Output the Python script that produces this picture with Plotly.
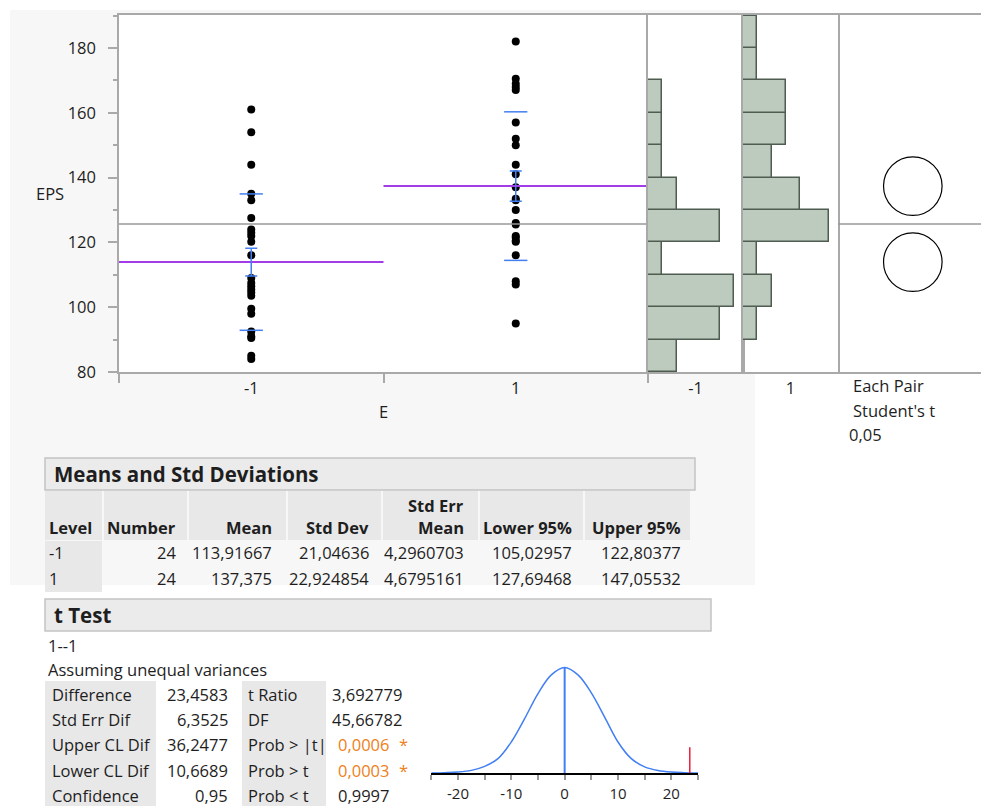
import plotly.graph_objects as go

W, H = 981, 806
FIG_H = 817
FONT = "Open Sans"
TXT = "#1e1e1e"
AX = "#a9a9a9"
BLUE = "#417ff2"
PURPLE = "#a43be8"
FS = 16.5

# ---------------- data ----------------
levels = ["-1", "1"]
level_x = [-1, 1]
eps_neg = [161, 154, 144, 135, 133, 127.5, 124, 123, 122, 120.2, 116, 109, 107.5,
           106.5, 105.5, 104.5, 103.5, 99.5, 98, 92.5, 91, 90.5, 85, 84]
eps_pos = [182, 170.5, 169, 168, 167, 157, 152, 150, 144, 141, 137, 133.5, 133,
           130, 126, 125.5, 122, 121.5, 120.5, 120.2, 116, 108, 107, 95]

bin_lo = [80, 90, 100, 110, 120, 130, 140, 150, 160, 170, 180]
bin_width = 10
hist_neg = [2, 5, 6, 1, 5, 2, 1, 1, 1, 0, 0]
hist_pos = [0, 1, 2, 1, 6, 4, 2, 3, 3, 1, 1]

means = [113.91667, 137.375]
std_devs = [21.04636, 22.924854]
std_errs = [4.2960703, 4.6795161]
circle_radius = [9.04, 9.04]

table_header = ["Level", "Number", "Mean", "Std Dev", "Mean", "Lower 95%", "Upper 95%"]
table_header_top = ["", "", "", "", "Std Err", "", ""]
table_rows = [["-1", "24", "113,91667", "21,04636", "4,2960703", "105,02957", "122,80377"],
              ["1", "24", "137,375", "22,924854", "4,6795161", "127,69468", "147,05532"]]

tt_labels1 = ["Difference", "Std Err Dif", "Upper CL Dif", "Lower CL Dif", "Confidence"]
tt_values1 = ["23,4583", "6,3525", "36,2477", "10,6689", "0,95"]
tt_labels2 = ["t Ratio", "DF", "Prob > |t|", "Prob > t", "Prob < t"]
tt_values2 = ["3,692779", "45,66782", "0,0006", "0,0003", "0,9997"]
tt_signif = [False, False, True, True, False]
tt_prob = [False, False, True, True, True]

difference = 23.4583
t_x = [-25, -22.5, -20, -17.5, -15, -12.5, -10, -7.5, -5, -2.5, 0,
       2.5, 5, 7.5, 10, 12.5, 15, 17.5, 20, 22.5, 25]
t_density = [0.0, 0.003, 0.009, 0.025, 0.063, 0.136, 0.294, 0.515, 0.753, 0.93, 1.0,
             0.93, 0.76, 0.53, 0.294, 0.136, 0.058, 0.024, 0.009, 0.003, 0.0]
red_mark_height = 0.244


# ---------------- helpers ----------------
def fx(px):
    return px / W


def fy(py):
    return 1 - py / H


annotations = []
shapes = []


def text(x, y, s, anchor="left", size=FS, color=TXT, bold=False):
    if bold:
        s = "<b>" + s + "</b>"
    annotations.append(dict(x=fx(x), y=fy(y), xref="paper", yref="paper", text=s,
                            showarrow=False, xanchor=anchor, yanchor="middle",
                            font=dict(family=FONT, size=size, color=color)))


def rect(x0, y0, x1, y1, fill, line=None, lw=0):
    shapes.append(dict(type="rect", xref="paper", yref="paper", x0=fx(x0), x1=fx(x1),
                       y0=fy(y1), y1=fy(y0), fillcolor=fill, layer="below",
                       line=dict(color=line or fill, width=lw)))


fig = go.Figure()

# gray report background, white graph panels
rect(10, 10, 755, 585, "#f7f7f7")
rect(119, 15, 981, 372, "#ffffff")

# ---------------- dot plot ----------------
for xv, vals in zip(level_x, [eps_neg, eps_pos]):
    fig.add_trace(go.Scatter(x=[xv] * len(vals), y=vals, mode="markers",
                             marker=dict(color="black", size=8), xaxis="x", yaxis="y",
                             showlegend=False, cliponaxis=False))

grand = sum(means) / len(means)
fig.add_trace(go.Scatter(x=[-2, 2], y=[grand, grand], mode="lines",
                         line=dict(color="#999999", width=1.5), xaxis="x", yaxis="y",
                         showlegend=False))

mx, my = [], []
for xv, m in zip(level_x, means):
    mx += [xv - 1, xv + 1, None]
    my += [m, m, None]
fig.add_trace(go.Scatter(x=mx, y=my, mode="lines", line=dict(color=PURPLE, width=2),
                         xaxis="x", yaxis="y", showlegend=False))

sx, sy = [], []
for xv, m, s in zip(level_x, means, std_devs):
    for v in (m - s, m + s):
        sx += [xv - 0.088, xv + 0.088, None]
        sy += [v, v, None]
fig.add_trace(go.Scatter(x=sx, y=sy, mode="lines", line=dict(color=BLUE, width=1.5),
                         xaxis="x", yaxis="y", showlegend=False))

fig.add_trace(go.Scatter(x=level_x, y=means, mode="markers", marker=dict(size=1, color="rgba(0,0,0,0)"),
                         error_y=dict(type="data", array=std_errs, color=BLUE, thickness=1.5, width=6),
                         xaxis="x", yaxis="y", showlegend=False))

# ---------------- histograms ----------------
for hist, xa, ya in [(hist_neg, "x3", "y3"), (hist_pos, "x4", "y4")]:
    yc = [b + bin_width / 2 for b, c in zip(bin_lo, hist) if c > 0]
    cc = [c for c in hist if c > 0]
    fig.add_trace(go.Bar(x=cc, y=yc, orientation="h", width=bin_width, xaxis=xa, yaxis=ya,
                         marker=dict(color="#bccbbd", line=dict(color="#4f5c51", width=1.5)),
                         showlegend=False))

# ---------------- comparison circles ----------------
fig.add_trace(go.Scatter(x=[-23.09, 21.05], y=[grand, grand], mode="lines",
                         line=dict(color="#999999", width=1.5), xaxis="x5", yaxis="y5",
                         showlegend=False))
for m, r in zip(means, circle_radius):
    shapes.append(dict(type="circle", xref="x5", yref="y5", x0=-r, x1=r, y0=m - r, y1=m + r,
                       line=dict(color="black", width=1.2)))

# ---------------- t distribution ----------------
fig.add_trace(go.Scatter(x=t_x, y=t_density, mode="lines", line=dict(color=BLUE, width=1.5, shape="spline"),
                         xaxis="x6", yaxis="y6", showlegend=False))
fig.add_trace(go.Scatter(x=[0, 0], y=[0, max(t_density)], mode="lines", line=dict(color=BLUE, width=2),
                         xaxis="x6", yaxis="y6", showlegend=False))
fig.add_trace(go.Scatter(x=[difference, difference], y=[0, red_mark_height], mode="lines",
                         line=dict(color="#ee1c3c", width=1.5), xaxis="x6", yaxis="y6", showlegend=False))

# ---------------- text around plot ----------------
text(50, 194, "EPS", anchor="center")
text(383, 411, "E", anchor="center")
text(851, 385, "Each Pair")
text(851, 410, "Student's t")
text(847, 434, "0,05")

# ---------------- Means and Std Deviations table ----------------
rect(45, 458, 695, 490, "#ebebeb", "#c4c4c4", 1.5)
text(52, 474, "Means and Std Deviations", size=20.5, bold=True)
col_bounds = [(45, 102), (104, 187), (189, 286), (288, 381), (383, 478), (480, 583), (585, 690)]
col_right = [None, 178, 274, 371, 466, 574, 683]
for (a, b) in col_bounds:
    rect(a, 491, b, 540, "#e8e8e8")
rect(45, 541, 102, 592, "#e8e8e8")
for i, h in enumerate(table_header):
    if i == 0:
        text(47, 527, h, bold=True)
    else:
        text(col_right[i], 527, h, anchor="right", bold=True)
    if table_header_top[i]:
        text(col_right[i], 505, table_header_top[i], anchor="right", bold=True)
for r, row in enumerate(table_rows):
    yy = 552 + r * 26
    for i, v in enumerate(row):
        if i == 0:
            text(47, yy, v)
        else:
            text(col_right[i], yy, v, anchor="right")

# ---------------- t Test ----------------
rect(45, 599, 711, 631, "#ebebeb", "#c4c4c4", 1.5)
text(52, 615, "t Test", size=20.5, bold=True)
text(46, 645, "1--1")
text(46, 669, "Assuming unequal variances")
rect(45, 681, 156, 806, "#e8e8e8")
rect(242, 681, 326, 806, "#e8e8e8")
ORANGE = "#ee8020"
for i in range(5):
    yy = 694.5 + i * 25.2
    text(50, yy, tt_labels1[i])
    text(230, yy, tt_values1[i], anchor="right")
    text(246, yy, tt_labels2[i])
    col = ORANGE if tt_signif[i] else TXT
    if tt_prob[i]:
        text(391, yy, tt_values2[i], anchor="right", color=col)
        if tt_signif[i]:
            text(397, yy, "*", color=col)
    else:
        text(330, yy, tt_values2[i])

# ---------------- layout ----------------
yr = [80, 80 + 357 / 3.24]
tickfont = dict(family=FONT, size=FS, color=TXT)
ydom = [fy(372), fy(15)]
hist_range = [0, 95 / 14.3]

fig.update_layout(
    width=W, height=FIG_H, margin=dict(l=0, r=0, t=0, b=0),
    paper_bgcolor="white", plot_bgcolor="rgba(0,0,0,0)",
    font=dict(family=FONT, size=FS, color=TXT),
    showlegend=False, bargap=0,
    annotations=annotations, shapes=shapes,
    xaxis=dict(domain=[fx(119), fx(648)], range=[-2, 2], anchor="y",
               tickmode="array", tickvals=level_x, ticktext=levels, ticks="",
               showline=True, linecolor=AX, linewidth=1.5, mirror=True, showgrid=False, zeroline=False,
               tickfont=tickfont, ticklabelstandoff=0,
               minor=dict(tickmode="array", tickvals=[-2, 0, 2], ticks="outside", ticklen=9,
                          tickcolor=AX, tickwidth=1.5, showgrid=False)),
    yaxis=dict(domain=ydom, range=yr, anchor="x", tickmode="array",
               tickvals=[80, 100, 120, 140, 160, 180], ticks="outside", ticklen=9,
               tickcolor=AX, tickwidth=1.5, showline=True, linecolor=AX, linewidth=1.5,
               showgrid=False, zeroline=False, tickfont=tickfont, ticklabelstandoff=9,
               minor=dict(tickmode="array", tickvals=[90, 110, 130, 150, 170, 190], ticks="outside",
                          ticklen=4, tickcolor=AX, tickwidth=1.5, showgrid=False)),
    xaxis3=dict(domain=[fx(648), fx(743)], range=hist_range, anchor="y3",
                tickmode="array", tickvals=[sum(hist_range) / 2], ticktext=[levels[0]], ticks="",
                showline=True, linecolor=AX, linewidth=1.5, mirror=True, showgrid=False,
                zeroline=False, tickfont=tickfont, ticklabelstandoff=0),
    yaxis3=dict(domain=ydom, range=yr, anchor="x3", showticklabels=False, ticks="",
                showline=True, linecolor=AX, linewidth=1.5, mirror=True, showgrid=False, zeroline=False),
    xaxis4=dict(domain=[fx(743), fx(838)], range=hist_range, anchor="y4",
                tickmode="array", tickvals=[sum(hist_range) / 2], ticktext=[levels[1]], ticks="",
                showline=True, linecolor=AX, linewidth=1.5, mirror=True, showgrid=False,
                zeroline=False, tickfont=tickfont, ticklabelstandoff=0),
    yaxis4=dict(domain=ydom, range=yr, anchor="x4", showticklabels=False, ticks="",
                showline=True, linecolor=AX, linewidth=1.5, mirror=True, showgrid=False, zeroline=False),
    xaxis5=dict(domain=[fx(838), 1], range=[-23.09, 21.05], anchor="y5", showticklabels=False,
                ticks="", showline=True, linecolor=AX, linewidth=1.5, mirror=True, showgrid=False,
                zeroline=False),
    yaxis5=dict(domain=ydom, range=yr, anchor="x5", showticklabels=False, ticks="",
                showline=False, showgrid=False, zeroline=False),
    xaxis6=dict(domain=[fx(431.3), fx(698)], range=[-25, 25], anchor="y6",
                tickmode="array", tickvals=list(range(-25, 26, 5)),
                ticktext=["" if v % 10 else str(v) for v in range(-25, 26, 5)],
                ticks="outside", ticklen=5, tickcolor="#999999", tickwidth=1.5,
                showline=True, linecolor="black", linewidth=1.5, showgrid=False, zeroline=False,
                tickfont=dict(family=FONT, size=15, color=TXT), ticklabelstandoff=1),
    yaxis6=dict(domain=[fy(773), fy(660)], range=[0, 113 / 105.5], anchor="x6",
                showticklabels=False, ticks="", showline=False, showgrid=False, zeroline=False),
)

fig.write_html("out.html")
